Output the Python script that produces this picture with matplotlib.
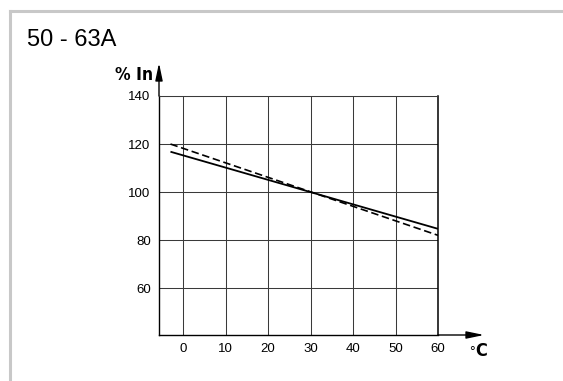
import matplotlib.pyplot as plt
from matplotlib.lines import Line2D

# data
title = "50 - 63A"
temps = [-3, 60]
solid_pct = [116.8, 84.7]
dashed_pct = [120.0, 82.0]
x_ticks = [0, 10, 20, 30, 40, 50, 60]
y_ticks = [60, 80, 100, 120, 140]

W, H = 563, 381
fig = plt.figure(figsize=(W / 100, H / 100), dpi=100)
fig.patch.set_facecolor("white")

# grey frame on top and left side
fig.add_artist(Line2D([9.5 / W, 1], [1 - 10.5 / H, 1 - 10.5 / H], color="#c8c8c8", lw=2.2))
fig.add_artist(Line2D([9.5 / W, 9.5 / W], [0, 1 - 10.5 / H], color="#c8c8c8", lw=2.2))

fig.text(27 / W, 1 - 46 / H, title, fontsize=17, family=["Liberation Sans", "DejaVu Sans"],
         va="baseline", ha="left")

left, right, top, bottom = 159, 438, 96, 335
ax = fig.add_axes([left / W, 1 - bottom / H, (right - left) / W, (bottom - top) / H])
ax.set_xlim(-5.7, 60)
ax.set_ylim(40.5, 140)

ax.set_xticks(x_ticks)
ax.set_yticks(y_ticks)
ax.tick_params(length=0, pad=6, labelsize=9.5)
for lab in ax.get_xticklabels() + ax.get_yticklabels():
    lab.set_family(["Liberation Sans", "DejaVu Sans"])
ax.grid(True, color="#3a3a3a", lw=0.75)
ax.set_axisbelow(True)

for s in ["left", "bottom"]:
    ax.spines[s].set_linewidth(1.0)
ax.spines["right"].set_linewidth(1.1)
ax.spines["top"].set_linewidth(0.75)
ax.spines["top"].set_color("#3a3a3a")

ax.plot(temps, solid_pct, color="black", lw=1.3, solid_capstyle="butt")
ax.plot(temps, dashed_pct, color="black", lw=1.2, dashes=(4.5, 2.2))

# axis arrows
arrow = dict(arrowstyle="-|>,head_length=1.05,head_width=0.22", mutation_scale=10,
             lw=1.0, color="black", shrinkA=0, shrinkB=0)
ax.annotate("", xy=(0, (bottom - 63) / (bottom - top)), xytext=(0, 1),
            xycoords="axes fraction", textcoords="axes fraction", arrowprops=arrow,
            annotation_clip=False)
ax.annotate("", xy=((484 - left) / (right - left), 0), xytext=(1, 0),
            xycoords="axes fraction", textcoords="axes fraction", arrowprops=arrow,
            annotation_clip=False)

cond = dict(family="DejaVu Sans", fontstretch="condensed", fontweight="bold")
fig.text(153 / W, 1 - 80 / H, "% In", fontsize=12.5, ha="right", va="baseline", **cond)
fig.text(469 / W, 1 - 356 / H, "°", fontsize=10, family=["Liberation Sans", "DejaVu Sans"],
         ha="left", va="baseline")
fig.text(475 / W, 1 - 356 / H, "C", fontsize=13, ha="left", va="baseline", **cond)

fig.savefig("out.png", dpi=100)
